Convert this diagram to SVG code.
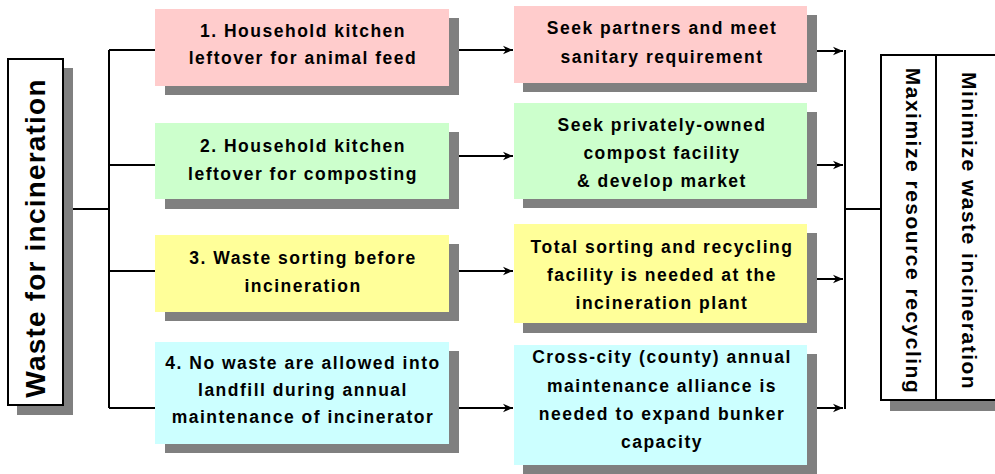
<svg xmlns="http://www.w3.org/2000/svg" width="995" height="474" viewBox="0 0 995 474">
<style>
.sh{fill:#808080}
.t{font-family:"Liberation Sans",Arial,sans-serif;font-weight:bold;font-size:17.5px;letter-spacing:1.5px;fill:#000;text-anchor:middle}
.ln{stroke:#000;stroke-width:2;fill:none}
.bx{fill:#fff;stroke:#000;stroke-width:2}
.pk{fill:#FFCCCC}.gr{fill:#CCFFCC}.ye{fill:#FFFF99}.cy{fill:#CCFFFF}
</style>
<defs>
<marker id="ah" markerWidth="12" markerHeight="10" refX="10" refY="5" orient="auto" markerUnits="userSpaceOnUse">
<path d="M10,5 L0,0.8 L3,5 L0,9.2 Z" fill="#000"/>
</marker>
</defs>
<rect width="995" height="474" fill="#fff"/>
<g id="connectors">
<path class="ln" d="M63,209 H109 M109,50 V408 M109,50 H155 M109,165 H155 M109,271 H155 M109,408 H155"/>
<path class="ln" d="M449,50 H513" marker-end="url(#ah)"/>
<path class="ln" d="M449,156 H513" marker-end="url(#ah)"/>
<path class="ln" d="M449,271 H513" marker-end="url(#ah)"/>
<path class="ln" d="M449,408 H513" marker-end="url(#ah)"/>
<path class="ln" d="M807,51 H843" marker-end="url(#ah)"/>
<path class="ln" d="M807,165 H843" marker-end="url(#ah)"/>
<path class="ln" d="M807,279 H843" marker-end="url(#ah)"/>
<path class="ln" d="M807,408 H843" marker-end="url(#ah)"/>
<path class="ln" d="M845,50 V409 M845,209 H881"/>
</g>
<g id="waste">
<rect class="sh" x="17" y="68" width="56" height="347"/>
<rect class="bx" x="8" y="59" width="55" height="346"/>
<text class="t" style="font-size:28px;letter-spacing:1.2px" transform="translate(45,238) rotate(-90)">Waste for incineration</text>
</g>
<g id="n1">
<rect class="sh" x="165" y="18" width="294" height="77"/>
<rect class="pk" x="155" y="9" width="294" height="77"/>
<text class="t" x="303" y="37">1. Household kitchen</text>
<text class="t" x="303" y="64">leftover for animal feed</text>
</g>
<g id="n2">
<rect class="sh" x="165" y="132" width="294" height="77"/>
<rect class="gr" x="155" y="123" width="294" height="76"/>
<text class="t" x="303" y="152">2. Household kitchen</text>
<text class="t" x="303" y="180">leftover for composting</text>
</g>
<g id="n3">
<rect class="sh" x="165" y="244" width="294" height="77"/>
<rect class="ye" x="155" y="235" width="294" height="77"/>
<text class="t" x="303" y="264">3. Waste sorting before</text>
<text class="t" x="303" y="292">incineration</text>
</g>
<g id="n4">
<rect class="sh" x="165" y="351" width="294" height="102"/>
<rect class="cy" x="155" y="342" width="294" height="102"/>
<text class="t" x="303" y="369">4. No waste are allowed into</text>
<text class="t" x="303" y="396">landfill during annual</text>
<text class="t" x="303" y="423">maintenance of incinerator</text>
</g>
<g id="r1">
<rect class="sh" x="523" y="15" width="294" height="77"/>
<rect class="pk" x="514" y="6" width="293" height="77"/>
<text class="t" x="662" y="34">Seek partners and meet</text>
<text class="t" x="662" y="63">sanitary requirement</text>
</g>
<g id="r2">
<rect class="sh" x="523" y="112" width="294" height="96"/>
<rect class="gr" x="514" y="103" width="293" height="96"/>
<text class="t" x="662" y="131">Seek privately-owned</text>
<text class="t" x="662" y="159">compost facility</text>
<text class="t" x="662" y="187">&amp; develop market</text>
</g>
<g id="r3">
<rect class="sh" x="523" y="233" width="294" height="100"/>
<rect class="ye" x="514" y="224" width="293" height="99"/>
<text class="t" x="662" y="253">Total sorting and recycling</text>
<text class="t" x="662" y="281">facility is needed at the</text>
<text class="t" x="662" y="309">incineration plant</text>
</g>
<g id="r4">
<rect class="sh" x="523" y="354" width="294" height="120"/>
<rect class="cy" x="514" y="345" width="293" height="120"/>
<text class="t" x="662" y="363">Cross-city (county) annual</text>
<text class="t" x="662" y="392">maintenance alliance is</text>
<text class="t" x="662" y="420">needed to expand bunker</text>
<text class="t" x="662" y="448">capacity</text>
</g>
<g id="goals">
<rect class="sh" x="890" y="64" width="120" height="347"/>
<rect class="bx" x="881" y="55" width="130" height="345"/>
<path class="ln" d="M936,55 V400"/>
<text class="t" style="font-size:21px;letter-spacing:1.5px" transform="translate(906,231) rotate(90)">Maximize resource recycling</text>
<text class="t" style="font-size:21px;letter-spacing:1.5px" transform="translate(962,231) rotate(90)">Minimize waste incineration</text>
</g>
</svg>
